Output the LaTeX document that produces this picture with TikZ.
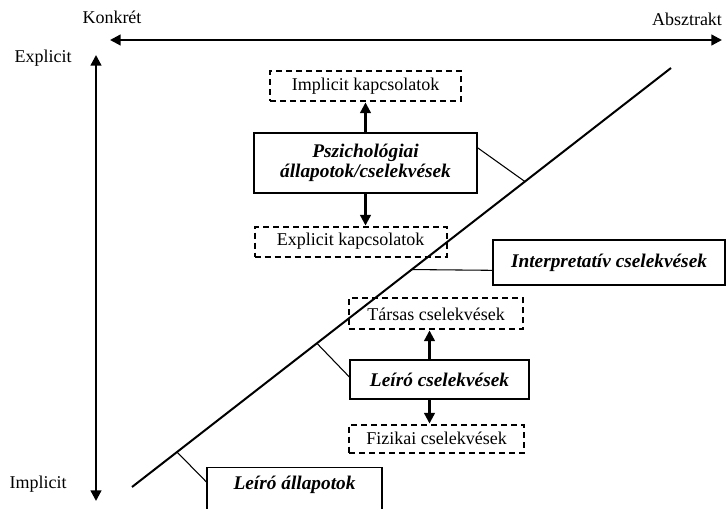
\documentclass[tikz,border=0pt]{standalone}
\usepackage{fontspec}
\setmainfont{Liberation Serif}
\usetikzlibrary{arrows.meta,positioning,calc}

\begin{document}
\begin{tikzpicture}[x=0.75pt, y=-0.75pt]
\tikzset{
    %Define standard arrow tip
    >={Triangle[length=8pt,width=8pt]},
    %Define style for solid boxes
    doboz/.style={
           rectangle,
           draw=black, line width=0.8pt,
           inner sep=0pt,
           align=center,
           font=\fontsize{14.5}{15}\selectfont\bfseries\itshape},
    %Define style for dashed boxes
    szaggatott/.style={
           rectangle,
           draw=black, line width=1.5pt,
           dash pattern=on 4.5pt off 3pt,
           inner sep=0pt,
           font=\fontsize{13.5}{16}\selectfont},
    % Define axis and arrow styles
    tengely/.style={<->, line width=1.7pt},
    nyil/.style={->, line width=1.7pt},
    vonal/.style={line width=0.8pt},
    felirat/.style={font=\fontsize{13.5}{16}\selectfont}
}
\useasboundingbox (0,0) rectangle (728,509);

 % axes
 \coordinate (bal) at (110,40);
 \coordinate (jobb) at (722,40);
 \coordinate (fent) at (96,55);
 \coordinate (lent) at (96,501);
 \draw[tengely] (bal) -- (jobb);
 \draw[tengely] (fent) -- (lent);
 \node[felirat] (konkret) at (112,17) {Konkrét};
 \node[felirat] (absztrakt) at (687,19) {Absztrakt};
 \node[felirat] (explicit) at (43,58) {Explicit};
 \node[felirat] (implicit) at (38,484) {Implicit};

 % the diagonal
 \coordinate (alja) at (132,487);
 \coordinate (teteje) at (671,68);
 \draw[line width=1.5pt] (alja) -- (teteje);

 %nodes
 \node[doboz, minimum width=167.25pt, minimum height=45pt]
   (pszich) at (365.5,163) {Pszichológiai\\állapotok/cselekvések};
 \node[szaggatott, minimum width=143.25pt, minimum height=22.5pt,
   above=22.5pt of pszich] (implkap) {Implicit kapcsolatok};
 \node[szaggatott, minimum width=144pt, minimum height=22.5pt,
   below=24pt of pszich, xshift=-11.25pt] (explkap) {Explicit kapcsolatok};

 \node[doboz, minimum width=174pt, minimum height=33.75pt]
   (interp) at (609,262.5) {Interpretatív cselekvések};

 \node[doboz, minimum width=134.25pt, minimum height=29.25pt]
   (leirocs) at (439.5,379.5) {Leíró cselekvések};
 \node[szaggatott, minimum width=130.5pt, minimum height=23.25pt,
   above=21.75pt of leirocs, xshift=-2.6pt] (tarsas) {Társas cselekvések};
 \node[szaggatott, minimum width=131.25pt, minimum height=21pt,
   below=18pt of leirocs, xshift=-2.25pt] (fizikai) {Fizikai cselekvések};

 % this box runs off the bottom edge
 \node[doboz, anchor=north, minimum width=131.25pt, text height=16.5pt,
   text depth=30pt] (leiroall) at (294.5,467) {Leíró állapotok};

 % arrows to the dashed boxes
 \draw[nyil] (pszich.north) -- (implkap.south);
 \draw[nyil] (pszich.south) -- (pszich.south |- explkap.north);
 \draw[nyil] ([xshift=-7.5pt]leirocs.north) -- ([xshift=-7.5pt]leirocs.north |- tarsas.south);
 \draw[nyil] ([xshift=-7.5pt]leirocs.south) -- ([xshift=-7.5pt]leirocs.south |- fizikai.north);

 % ticks on the diagonal
 \coordinate (t1) at ($(alja)!0.729!(teteje)$);
 \coordinate (t2) at ($(alja)!0.519!(teteje)$);
 \coordinate (t3) at ($(alja)!0.343!(teteje)$);
 \coordinate (t4) at ($(alja)!0.0835!(teteje)$);
 \draw[vonal] ($(pszich.north east)!0.25!(pszich.south east)$) -- (t1);
 \draw[vonal] ($(interp.north west)!0.67!(interp.south west)$) -- (t2);
 \draw[vonal] ($(leirocs.north west)!0.44!(leirocs.south west)$) -- (t3);
 \draw[vonal] ([yshift=-11.25pt]leiroall.north west) -- (t4);
\end{tikzpicture}
\end{document}
